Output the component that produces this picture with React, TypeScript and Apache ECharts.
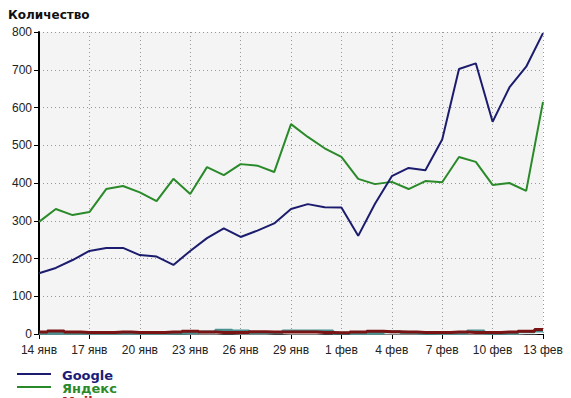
import React, { useEffect, useRef } from "react";
import * as echarts from "echarts";

const dates: string[] = [
  "14 янв", "15 янв", "16 янв", "17 янв", "18 янв", "19 янв", "20 янв", "21 янв",
  "22 янв", "23 янв", "24 янв", "25 янв", "26 янв", "27 янв", "28 янв", "29 янв",
  "30 янв", "31 янв", "1 фев", "2 фев", "3 фев", "4 фев", "5 фев", "6 фев",
  "7 фев", "8 фев", "9 фев", "10 фев", "11 фев", "12 фев", "13 фев",
];

const google: number[] = [
  161, 175, 196, 220, 228, 228, 209, 205, 183, 220, 254, 280, 257, 274, 293, 331,
  344, 336, 335, 260, 345, 418, 440, 434, 515, 702, 717, 562, 653, 708, 797,
];

const yandex: number[] = [
  297, 331, 315, 323, 384, 392, 375, 352, 411, 371, 442, 421, 450, 446, 429, 556,
  522, 492, 469, 411, 397, 403, 384, 405, 402, 469, 456, 395, 400, 379, 615,
];

const mail: number[] = [
  5, 8, 5, 4, 4, 5, 4, 4, 5, 7, 5, 4, 4, 6, 5, 5,
  5, 4, 3, 5, 7, 6, 5, 4, 4, 5, 4, 4, 5, 7, 12,
];

const rambler: number[] = [
  2, 2, 2, 2, 2, 2, 2, 2, 2, 3, 5, 10, 8, 3, 4, 8,
  8, 8, 2, 2, 2, 6, 4, 2, 2, 2, 8, 2, 2, 6, 8,
];

const others: number[] = [
  1, 1, 1, 1, 1, 1, 1, 1, 2, 1, 1, 2, 1, 1, 2, 1,
  1, 2, 3, 1, 1, 1, 1, 2, 1, 1, 1, 2, 1, 2, 3,
];

const legendNames: string[] = ["Google", "Яндекс", "Mail.ru"];
const legendColors: string[] = ["#1c1c6e", "#2a8a2a", "#b01c1c"];
const legendTextColors: string[] = ["#1c1c78", "#2a8a2a", "#b01c1c"];

const yTicks = { min: 0, max: 800, interval: 100 };

export default function App() {
  const ref = useRef<HTMLDivElement>(null);

  useEffect(() => {
    if (!ref.current) return;
    const chart = echarts.init(ref.current, null, { renderer: "svg" });
    const dotted = { color: "#999999", type: [1, 3] as any, width: 1 };
    const legendGraphics: any[] = [];
    legendNames.forEach((name, i) => {
      const cy = 374 + i * 13;
      legendGraphics.push({
        type: "line",
        shape: { x1: 17, y1: cy, x2: 51, y2: cy },
        style: { stroke: legendColors[i], lineWidth: 2 },
      });
      legendGraphics.push({
        type: "text",
        x: 62,
        y: cy + 1,
        style: {
          text: name,
          fill: legendTextColors[i],
          font: "bold 13px 'DejaVu Sans'",
          verticalAlign: "middle",
          align: "left",
        },
      });
    });
    chart.setOption({
      animation: false,
      backgroundColor: "#ffffff",
      title: {
        text: "Количество",
        left: 3,
        top: 4,
        textStyle: {
          fontFamily: "DejaVu Sans",
          fontWeight: "bold",
          fontSize: 12,
          color: "#111111",
        },
      },
      graphic: legendGraphics,
      grid: {
        left: 39,
        right: 28,
        top: 32,
        bottom: 64,
        show: true,
        backgroundColor: "#f4f4f4",
        borderWidth: 0,
      },
      xAxis: {
        type: "category",
        data: dates,
        boundaryGap: false,
        axisLine: { show: true, lineStyle: { color: "#000000", width: 1 } },
        axisTick: {
          show: true,
          interval: 2,
          length: 5,
          lineStyle: { color: "#000000", width: 1 },
        },
        axisLabel: {
          interval: 2,
          margin: 10,
          fontFamily: "Liberation Sans",
          fontSize: 12,
          color: "#222222",
        },
        splitLine: { show: true, interval: 2, lineStyle: dotted },
      },
      yAxis: {
        type: "value",
        min: yTicks.min,
        max: yTicks.max,
        interval: yTicks.interval,
        axisLine: { show: true, lineStyle: { color: "#000000", width: 2 } },
        axisTick: {
          show: true,
          length: 5,
          lineStyle: { color: "#000000", width: 1 },
        },
        axisLabel: {
          margin: 7,
          fontFamily: "Liberation Sans",
          fontSize: 12,
          color: "#222222",
        },
        splitLine: { show: true, lineStyle: dotted },
      },
      series: [
        {
          name: "Другие",
          type: "line",
          data: others,
          showSymbol: false,
          step: "middle",
          lineStyle: { color: "#ffffff", width: 2 },
          itemStyle: { color: "#ffffff" },
          z: 2,
        },
        {
          name: "Rambler",
          type: "line",
          data: rambler,
          showSymbol: false,
          step: "middle",
          lineStyle: { color: "#4a9090", width: 3 },
          itemStyle: { color: "#4a9090" },
          z: 2,
        },
        {
          name: "Mail.ru",
          type: "line",
          data: mail,
          showSymbol: false,
          step: "middle",
          lineStyle: { color: "#7a1414", width: 3 },
          itemStyle: { color: "#b01c1c" },
          z: 3,
        },
        {
          name: "Яндекс",
          type: "line",
          data: yandex,
          showSymbol: false,
          lineStyle: { color: "#2a8a2a", width: 2 },
          itemStyle: { color: "#2a8a2a" },
          z: 4,
        },
        {
          name: "Google",
          type: "line",
          data: google,
          showSymbol: false,
          lineStyle: { color: "#1c1c6e", width: 2 },
          itemStyle: { color: "#1c1c6e" },
          z: 5,
        },
      ],
    });
    return () => chart.dispose();
  }, []);

  return (
    <div
      ref={ref}
      style={{ position: "fixed", left: 0, top: 0, width: 571, height: 398 }}
    />
  );
}
